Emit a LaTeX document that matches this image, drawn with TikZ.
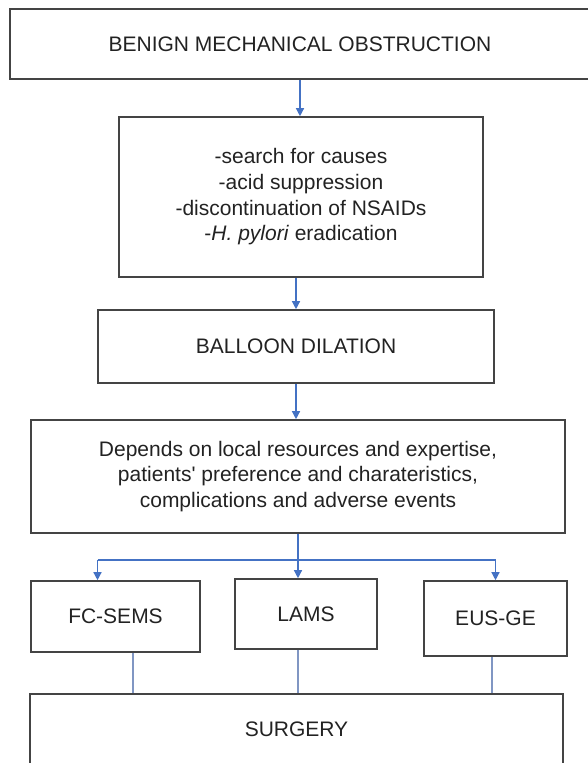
\documentclass[tikz,border=0pt]{standalone}
\usepackage{fontspec}
\setmainfont{Liberation Sans}
\usetikzlibrary{positioning,arrows.meta,calc}
\definecolor{boxline}{RGB}{68,68,68}
\definecolor{flowblue}{RGB}{68,114,196}
\definecolor{linkblue}{RGB}{128,150,195}
\definecolor{txt}{RGB}{34,34,34}

\begin{document}
\begin{tikzpicture}[x=1pt,y=-1pt,
    box/.style={draw=boxline,line width=1.6pt,inner sep=0pt,align=center,text=txt,
      font=\fontsize{21}{25.7}\selectfont},
    flow/.style={draw=flowblue,line width=1.3pt,-{Triangle[width=8pt,length=8pt]}},
    link/.style={draw=linkblue,line width=1.3pt}]
    \useasboundingbox (0,0) rectangle (587,763);
    % boxes
    \node[box,minimum width=580,minimum height=70] (obstruction) at (300,44) {BENIGN MECHANICAL OBSTRUCTION};
    \node[box,minimum width=364,minimum height=160] (measures) at (301,197)
      {-search for causes\\-acid suppression\\-discontinuation of NSAIDs\\-\textit{H. pylori} eradication};
    \node[box,minimum width=396,minimum height=73] (balloon) at (296,346.5) {BALLOON DILATION};
    \node[box,minimum width=534,minimum height=113] (depends) at (298,476.5)
      {Depends on local resources and expertise,\\patients\textquotesingle{} preference and charateristics,\\complications and adverse events};
    \node[box,minimum width=169,minimum height=71] (fcsems) at (115.5,616.5) {FC-SEMS};
    \node[box,minimum width=142,minimum height=70] (lams) at (306,614) {LAMS};
    \node[box,minimum width=143,minimum height=75] (eusge) at (495.5,618.5) {EUS-GE};
    \node[box,minimum width=533,minimum height=71] (surgery) at (296.5,729.5) {SURGERY};
    % arrows
    \draw[flow] (obstruction.south) -- (obstruction.south |- measures.north);
    \draw[flow] (balloon.north |- measures.south) -- (balloon.north);
    \draw[flow] (balloon.south) -- (balloon.south |- depends.north);
    \coordinate (split) at (298,560);
    \coordinate (leftdrop) at ([xshift=-18]fcsems.north |- split);
    \coordinate (rightdrop) at (eusge.north |- split);
    \draw[flow] (depends.south) -- (depends.south |- lams.north);
    \draw[draw=flowblue,line width=1.3pt] (leftdrop) -- (rightdrop);
    \draw[flow] (leftdrop) -- (leftdrop |- fcsems.north);
    \draw[flow] (rightdrop) -- (eusge.north);
    % to surgery
    \draw[link] ([xshift=17.5]fcsems.south) -- ([xshift=17.5]fcsems.south |- surgery.north);
    \draw[link] (depends.south |- lams.south) -- (depends.south |- surgery.north);
    \draw[link] ([xshift=-3.5]eusge.south) -- ([xshift=-3.5]eusge.south |- surgery.north);
\end{tikzpicture}
\end{document}
